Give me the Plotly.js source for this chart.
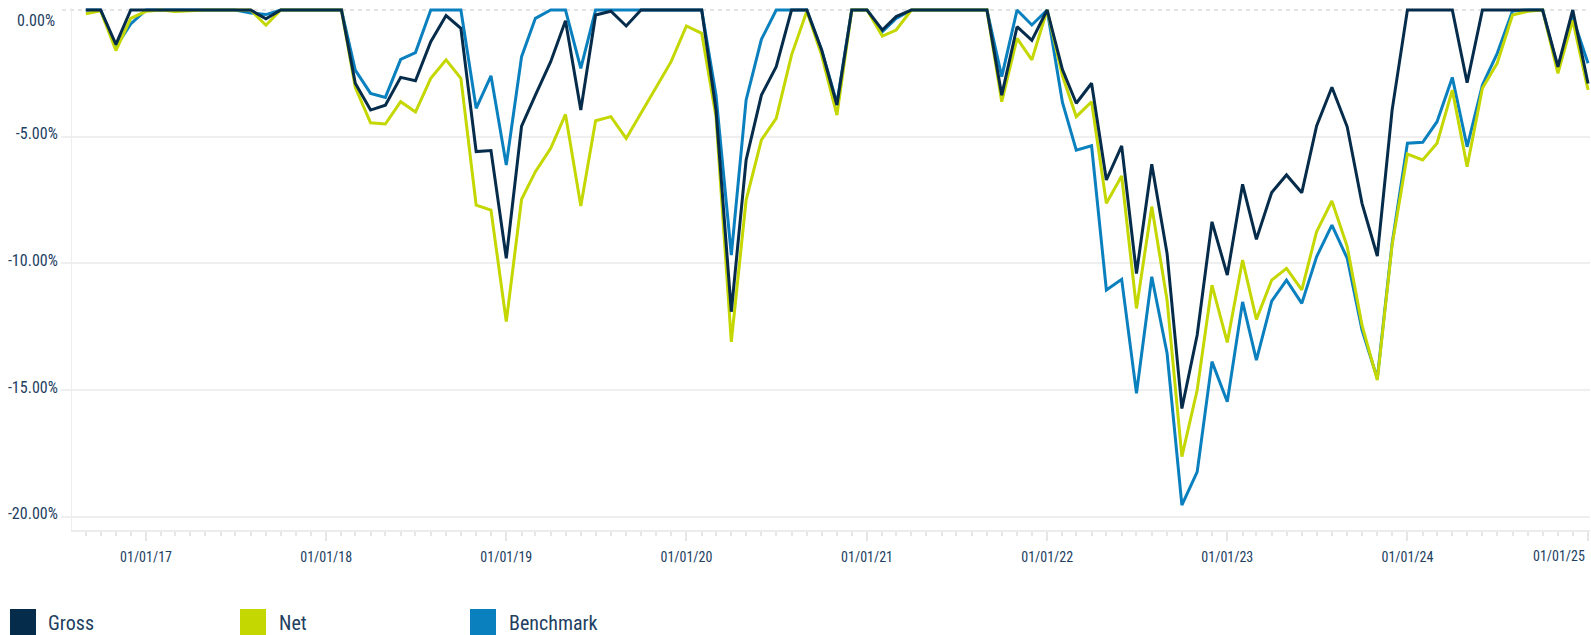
<!DOCTYPE html>
<html>
<head>
<meta charset="utf-8">
<script src="https://cdn.plot.ly/plotly-3.0.1.min.js"></script>
<style>
html,body{margin:0;padding:0;background:#fff;}
#chart{width:1591px;height:635px;}
</style>
</head>
<body>
<div id="chart"></div>
<script>
// ---------- DATA ----------
const dates = [
  '2016-09-01','2016-10-01','2016-11-01','2016-12-01',
  '2017-01-01','2017-02-01','2017-03-01','2017-04-01','2017-05-01','2017-06-01','2017-07-01','2017-08-01','2017-09-01','2017-10-01','2017-11-01','2017-12-01',
  '2018-01-01','2018-02-01','2018-03-01','2018-04-01','2018-05-01','2018-06-01','2018-07-01','2018-08-01','2018-09-01','2018-10-01','2018-11-01','2018-12-01',
  '2019-01-01','2019-02-01','2019-03-01','2019-04-01','2019-05-01','2019-06-01','2019-07-01','2019-08-01','2019-09-01','2019-10-01','2019-11-01','2019-12-01',
  '2020-01-01','2020-02-01','2020-03-01','2020-04-01','2020-05-01','2020-06-01','2020-07-01','2020-08-01','2020-09-01','2020-10-01','2020-11-01','2020-12-01',
  '2021-01-01','2021-02-01','2021-03-01','2021-04-01','2021-05-01','2021-06-01','2021-07-01','2021-08-01','2021-09-01','2021-10-01','2021-11-01','2021-12-01',
  '2022-01-01','2022-02-01','2022-03-01','2022-04-01','2022-05-01','2022-06-01','2022-07-01','2022-08-01','2022-09-01','2022-10-01','2022-11-01','2022-12-01',
  '2023-01-01','2023-02-01','2023-03-01','2023-04-01','2023-05-01','2023-06-01','2023-07-01','2023-08-01','2023-09-01','2023-10-01','2023-11-01','2023-12-01',
  '2024-01-01','2024-02-01','2024-03-01','2024-04-01','2024-05-01','2024-06-01','2024-07-01','2024-08-01','2024-09-01','2024-10-01','2024-11-01','2024-12-01',
  '2025-01-01'
];

const gross = [
  0, 0, -1.36, 0,
  0, 0, 0, 0, 0, 0, 0, 0, -0.35, 0, 0, 0,
  0, 0, -2.89, -3.95, -3.76, -2.66, -2.79, -1.25, -0.22, -0.72, -5.59, -5.55,
  -9.8, -4.58, -3.36, -2.04, -0.42, -3.95, -0.2, -0.05, -0.63, 0, 0, 0,
  0, 0, -3.95, -11.91, -5.92, -3.36, -2.24, 0, 0, -1.58, -3.75, 0,
  0, -0.79, -0.26, 0, 0, 0, 0, 0, 0, -3.36, -0.66, -1.2,
  0, -2.35, -3.68, -2.89, -6.71, -5.36, -10.4, -6.09, -9.61, -15.73, -12.83, -8.36,
  -10.46, -6.88, -9.05, -7.2, -6.51, -7.21, -4.58, -3.05, -4.61, -7.63, -9.71, -3.95,
  0, 0, 0, 0, -2.87, 0, 0, 0, 0, 0, -2.24, 0,
  -2.9
];

const net = [
  -0.15, -0.03, -1.6, -0.33,
  -0.05, 0, -0.06, -0.03, 0, 0, 0, 0, -0.6, 0, 0, 0,
  0, 0, -3.05, -4.45, -4.5, -3.62, -4.03, -2.7, -1.97, -2.7, -7.7, -7.9,
  -12.3, -7.47, -6.38, -5.46, -4.12, -7.74, -4.37, -4.21, -5.07, -4.08, -3.05, -2.04,
  -0.63, -0.92, -4.21, -13.1, -7.5, -5.13, -4.28, -1.78, -0.05, -1.78, -4.15, 0,
  0, -1.03, -0.79, 0, 0, 0, 0, 0, 0, -3.62, -1.12, -1.97,
  0, -2.6, -4.21, -3.62, -7.63, -6.55, -11.78, -7.76, -11.45, -17.63, -15.0, -10.86,
  -13.12, -9.87, -12.21, -10.66, -10.2, -11.05, -8.75, -7.54, -9.34, -12.44, -14.61, -9.28,
  -5.69, -5.92, -5.26, -3.16, -6.19, -3.09, -2.1, -0.2, -0.05, 0, -2.5, -0.4,
  -3.15
];

const benchmark = [
  0, 0, -1.45, -0.55,
  0, 0, 0, 0, 0, 0, 0, -0.12, -0.18, 0, 0, 0,
  0, 0, -2.37, -3.29, -3.45, -1.95, -1.68, 0, 0, 0, -3.88, -2.6,
  -6.12, -1.84, -0.33, 0, 0, -2.3, 0, 0, 0, 0, 0, 0,
  0, 0, -3.36, -9.67, -3.55, -1.16, 0, 0, 0, -1.58, -3.68, 0,
  0, -0.86, -0.33, 0, 0, 0, 0, 0, 0, -2.63, 0, -0.59,
  0, -3.65, -5.53, -5.36, -11.05, -10.63, -15.13, -10.53, -13.55, -19.54, -18.23, -13.88,
  -15.46, -11.52, -13.82, -11.49, -10.66, -11.58, -9.74, -8.49, -9.8, -12.63, -14.54, -9.21,
  -5.26, -5.22, -4.41, -2.66, -5.4, -2.96, -1.71, -0.04, 0, 0, -2.3, -0.3,
  -2.1
];

const seriesNames = ['Gross', 'Net', 'Benchmark'];
const yTickVals = [-20, -15, -10, -5];
const yTickText = ['-20.00%', '-15.00%', '-10.00%', '-5.00%'];
const yZeroLabel = '0.00%';
const xTickVals = ['2017-01-01','2018-01-01','2019-01-01','2020-01-01','2021-01-01','2022-01-01','2023-01-01','2024-01-01','2025-01-01'];
const xTickText = ['01/01/17','01/01/18','01/01/19','01/01/20','01/01/21','01/01/22','01/01/23','01/01/24','01/01/25'];

// ---------- STYLE ----------
const COLORS = { Gross: '#062c4b', Net: '#c4d700', Benchmark: '#0a80bf' };
const FONT = '"Roboto Condensed", Roboto, "Liberation Sans", sans-serif';
const TXT = '#22405f';
const GRID = '#efefef';

const W = 1591, H = 635;
const M = { l: 72, r: 1, t: 8, b: 105 };
const PW = W - M.l - M.r, PH = H - M.t - M.b;
const px2x = p => (p - M.l) / PW;
const py2y = p => (H - M.b - p) / PH;

const mk = (name, y) => ({
  type: 'scatter', mode: 'lines', name: name, x: dates, y: y,
  line: { color: COLORS[name], width: 3 }, showlegend: false,
  hovertemplate: '%{x|%d/%m/%y}: %{y:.2f}%<extra>' + name + '</extra>'
});

const traces = [mk('Benchmark', benchmark), mk('Net', net), mk('Gross', gross)];

// custom legend (large square swatches)
const legendX = { Gross: [10, 46], Net: [240, 277], Benchmark: [470, 507] };
const shapes = [
  { type: 'line', xref: 'paper', yref: 'y', x0: px2x(62), x1: 1, y0: 0, y1: 0,
    line: { color: '#c8c8c8', width: 1, dash: '4px,4px' }, layer: 'below' }
];
const annotations = [
  { xref: 'paper', yref: 'paper', x: px2x(57), y: py2y(21), xanchor: 'right', yanchor: 'middle',
    text: yZeroLabel, showarrow: false, font: { family: FONT, size: 16, color: TXT } },
  { xref: 'paper', yref: 'paper', x: px2x(1587), y: py2y(556), xanchor: 'right', yanchor: 'middle',
    text: xTickText[xTickText.length - 1], showarrow: false, font: { family: FONT, size: 14, color: TXT } }
];
seriesNames.forEach(n => {
  const [sx, tx] = legendX[n];
  shapes.push({ type: 'rect', xref: 'paper', yref: 'paper',
    x0: px2x(sx), x1: px2x(sx + 26), y0: py2y(636), y1: py2y(609),
    fillcolor: COLORS[n], line: { width: 0 } });
  annotations.push({ xref: 'paper', yref: 'paper', x: px2x(tx), y: py2y(623),
    xanchor: 'left', yanchor: 'middle', text: n, showarrow: false,
    font: { family: FONT, size: 20, color: TXT } });
});

const layout = {
  width: W, height: H,
  margin: M,
  paper_bgcolor: '#ffffff', plot_bgcolor: '#ffffff',
  showlegend: false,
  font: { family: FONT, color: TXT },
  xaxis: {
    type: 'date',
    range: ['2016-08-04', '2025-01-05'],
    tickmode: 'array', tickvals: xTickVals,
    ticktext: xTickText.map((t, i) => i === xTickText.length - 1 ? '' : t),
    ticks: 'outside', ticklen: 9, tickwidth: 2, tickcolor: '#e6e6e6',
    showline: true, linecolor: '#ececec', linewidth: 2,
    showgrid: false, zeroline: false,
    minor: { dtick: 'M1', tick0: '2016-09-01', ticks: 'outside', ticklen: 4, tickwidth: 2, tickcolor: '#e6e6e6', showgrid: false },
    tickfont: { family: FONT, size: 14, color: TXT },
    ticklabelstandoff: 4,
    fixedrange: true
  },
  yaxis: {
    range: [-20.525, 0.079],
    tickmode: 'array', tickvals: yTickVals, ticktext: yTickText,
    showgrid: true, gridcolor: GRID, gridwidth: 2,
    ticks: 'outside', ticklen: 10, tickwidth: 2, tickcolor: GRID,
    showline: true, linecolor: '#eeeeee', linewidth: 1,
    zeroline: false,
    ticklabelshift: -3,
    tickfont: { family: FONT, size: 16, color: TXT },
    fixedrange: true
  },
  shapes: shapes,
  annotations: annotations
};

Plotly.newPlot('chart', traces, layout, { displayModeBar: false, staticPlot: true });
</script>
</body>
</html>
